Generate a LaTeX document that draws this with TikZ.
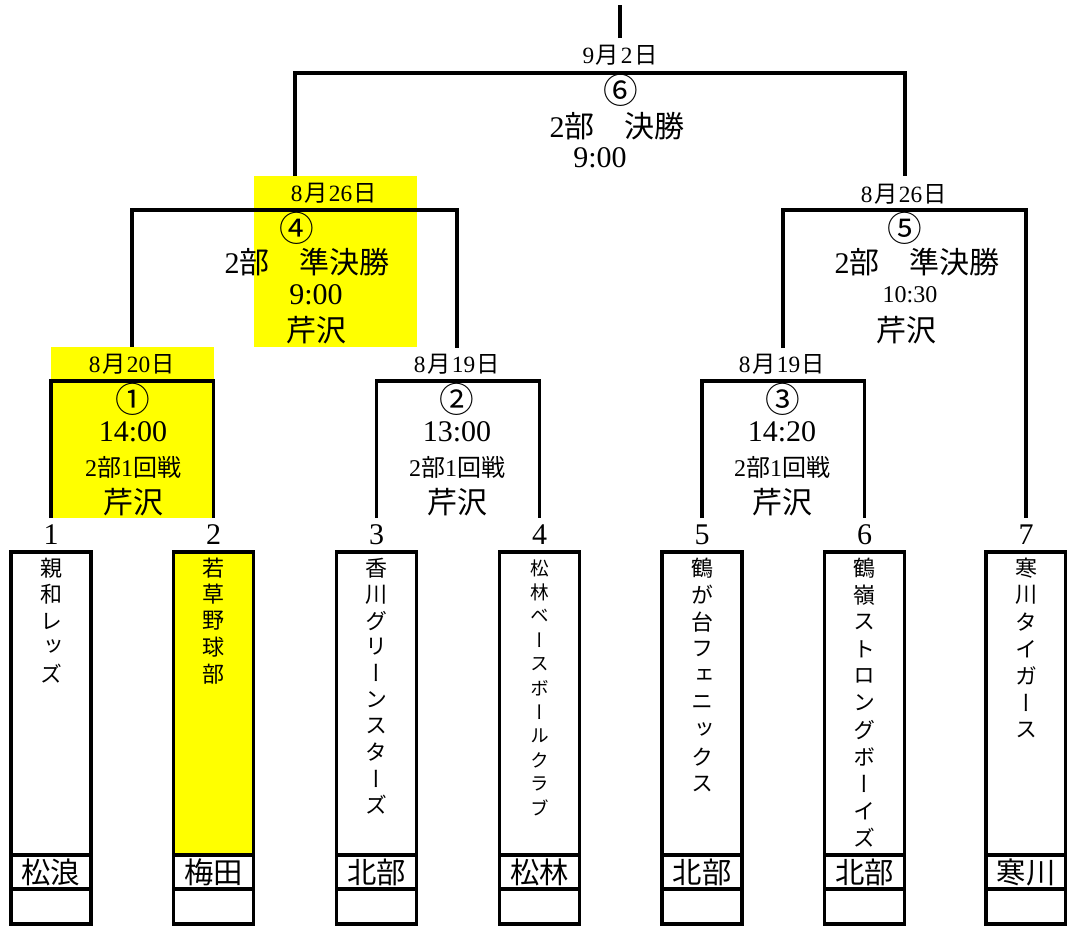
\documentclass[tikz,border=0pt]{standalone}
\usepackage{fontspec}
\setmainfont{Liberation Serif}
\newfontfamily\jp{Noto Sans CJK JP}
\newfontfamily\jpv[RawFeature=+vert]{Noto Sans CJK JP}
\newcommand\J[1]{{\jp #1}}
\newcommand\Dk{\kern1.2pt}
\definecolor{hl}{RGB}{255,255,0}
\newcommand\vtext[5]{%
  \foreach \c [count=\k] in {#5} {\node[#4] (#1-\k) at (#2,{568+(\k-1)*#3}) {\c};}}
\begin{document}
\begin{tikzpicture}[x=0.75pt,y=-0.75pt,
  br/.style={line width=2.4pt},
  bx/.style={line width=2.4pt},
  big/.style={font=\fontsize{22.5}{26}\selectfont, inner sep=0pt},
  circ/.style={font=\jp\fontsize{26}{28}\selectfont, inner sep=0pt},
  sml/.style={font=\fontsize{18}{21}\selectfont, inner sep=0pt},
  dt/.style={font=\fontsize{17.5}{20}\selectfont, inner sep=0pt},
  tch/.style={font=\jpv\fontsize{16.5}{20}\selectfont, inner sep=0pt},
  tchs/.style={font=\jpv\fontsize{14}{18}\selectfont, inner sep=0pt},
  sch/.style={font=\jp\fontsize{22}{26}\selectfont, inner sep=0pt},
  num/.style={font=\fontsize{22.5}{26}\selectfont, inner sep=0pt}]
\useasboundingbox (0,0) rectangle (1067,926);
% highlight areas
\fill[hl] (51,347) rectangle (214,518);
\fill[hl] (254,176) rectangle (417,347);
% team boxes
\foreach \x/\f [count=\i] in {51/white,213.5/hl,376.5/white,539.5/white,702/white,864.5/white,1026/white} {
  \fill[\f] (\x-40,552) rectangle (\x+40,855);
  \draw[bx] (\x-40,552) rectangle (\x+40,924);
  \draw[bx] (\x-40,855) -- (\x+40,855);
  \draw[bx] (\x-40,889) -- (\x+40,889);
  \node[num] (n\i) at (\x,535) {\i};
}
% team names
\vtext{t1}{51}{26.5}{tch}{親,和,レ,ッ,ズ}
\vtext{t2}{213.5}{26.5}{tch}{若,草,野,球,部}
\vtext{t3}{376.5}{26.3}{tch}{香,川,グ,リ,ー,ン,ス,タ,ー,ズ}
\vtext{t4}{539.5}{24}{tchs}{松,林,ベ,ー,ス,ボ,ー,ル,ク,ラ,ブ}
\vtext{t5}{702}{27}{tch}{鶴,が,台,フ,ェ,ニ,ッ,ク,ス}
\vtext{t6}{864.5}{27}{tch}{鶴,嶺,ス,ト,ロ,ン,グ,ボ,ー,イ,ズ}
\vtext{t7}{1026}{27}{tch}{寒,川,タ,イ,ガ,ー,ス}
% school names
\node[sch] (s1) at (51,872) {松浪};
\node[sch] (s2) at (213.5,872) {梅田};
\node[sch] (s3) at (376.5,872) {北部};
\node[sch] (s4) at (539.5,872) {松林};
\node[sch] (s5) at (702,872) {北部};
\node[sch] (s6) at (864.5,872) {北部};
\node[sch] (s7) at (1026,872) {寒川};
% bracket coordinates
\coordinate (b1) at (51,518);
\coordinate (b2) at (213.5,518);
\coordinate (b3) at (376.5,518);
\coordinate (b4) at (539.5,518);
\coordinate (b5) at (702,518);
\coordinate (b6) at (864.5,518);
\coordinate (b7) at (1026,518);
\coordinate (j1) at (132,381);
\coordinate (j2) at (457,381);
\coordinate (j3) at (782,381);
\coordinate (j4) at (295,210);
\coordinate (j5) at (905,210);
\coordinate (j6) at (620,73);
\coordinate (u1) at (132,347);
\coordinate (u2) at (457,348);
\coordinate (u3) at (783,348);
\coordinate (u4) at (295,176);
\coordinate (u5) at (905,176);
\coordinate (top0) at (620,38);
\coordinate (top1) at (620,5);
\draw[br] (b1) |- (j1) -| (b2);
\draw[br] (b3) |- (j2) -| (b4);
\draw[br] (b5) |- (j3) -| (b6);
\draw[br] (u1) |- (j4) -| (u2);
\draw[br] (u3) |- (j5) -| (b7);
\draw[br] (u4) |- (j6) -| (u5);
\draw[br] (top0) -- (top1);
% final
\node[dt] (d6) at (620,55) {9\Dk\J{月}\Dk 2\Dk\J{日}};
\node[circ] (c6) at (621,90) {⑥};
\node[big] (r6) at (617,126) {2\J{部　決勝}};
\node[big] (h6) at (600,158) {9:00};
% match 4
\node[dt] (d4) at (334,193) {8\Dk\J{月}\Dk 26\Dk\J{日}};
\node[circ] (c4) at (297,228) {④};
\node[big] (r4) at (307,262) {2\J{部　準決勝}};
\node[big] (h4) at (316,295) {9:00};
\node[big] (p4) at (316,330) {\J{芹沢}};
% match 5
\node[dt] (d5) at (904,194) {8\Dk\J{月}\Dk 26\Dk\J{日}};
\node[circ] (c5) at (905,228) {⑤};
\node[big] (r5) at (917,262) {2\J{部　準決勝}};
\node[sml] (h5) at (910,295) {10:30};
\node[big] (p5) at (906,330) {\J{芹沢}};
% match 1
\node[dt] (d1) at (132,364) {8\Dk\J{月}\Dk 20\Dk\J{日}};
\node[circ] (c1) at (133,399) {①};
\node[big] (h1) at (133,432) {14:00};
\node[sml] (r1) at (133,467) {2\J{部}1\J{回戦}};
\node[big] (p1) at (133,502) {\J{芹沢}};
% match 2
\node[dt] (d2) at (457,364) {8\Dk\J{月}\Dk 19\Dk\J{日}};
\node[circ] (c2) at (457,399) {②};
\node[big] (h2) at (457,432) {13:00};
\node[sml] (r2) at (457,467) {2\J{部}1\J{回戦}};
\node[big] (p2) at (457,502) {\J{芹沢}};
% match 3
\node[dt] (d3) at (782,364) {8\Dk\J{月}\Dk 19\Dk\J{日}};
\node[circ] (c3) at (783,399) {③};
\node[big] (h3) at (782,432) {14:20};
\node[sml] (r3) at (782,467) {2\J{部}1\J{回戦}};
\node[big] (p3) at (782,502) {\J{芹沢}};
\end{tikzpicture}
\end{document}
